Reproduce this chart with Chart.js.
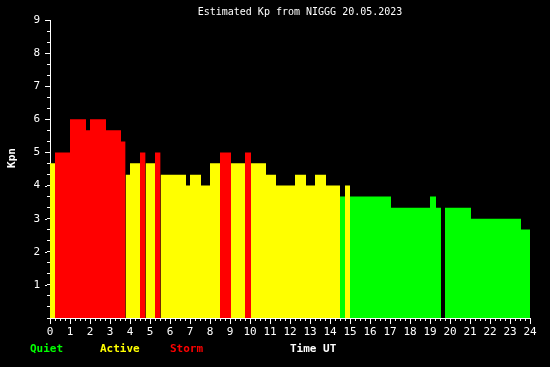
<!DOCTYPE html>
<html lang="en">
<head>
<meta charset="UTF-8">
<title>Estimated Kp from NIGGG 20.05.2023</title>
<script src="https://cdn.jsdelivr.net/npm/chart.js"></script>
<style>
  html, body { margin: 0; padding: 0; background: #000; }
</style>
</head>
<body>
<canvas id="kpChart" width="550" height="367"></canvas>
<script>
// Kp segments: start / end time (hours UT) and the value in between
const segStart = [0, 0.25, 1.0, 1.8, 2.0, 2.8, 3.55, 3.78, 4.0, 4.5, 4.78, 5.25, 5.53, 6.8, 7.0, 7.55, 8.0, 8.5, 9.05, 9.75, 10.05, 10.8, 11.3, 12.25, 12.8, 13.25, 13.8, 14.5, 14.75, 15.0, 17.05, 19.0, 19.3, 19.75, 21.05, 23.55];
const segEnd   = [0.25, 1.0, 1.8, 2.0, 2.8, 3.55, 3.78, 4.0, 4.5, 4.78, 5.25, 5.53, 6.8, 7.0, 7.55, 8.0, 8.5, 9.05, 9.75, 10.05, 10.8, 11.3, 12.25, 12.8, 13.25, 13.8, 14.5, 14.75, 15.0, 17.05, 19.0, 19.3, 19.55, 21.05, 23.55, 24.0];
const kpValues = [4.67, 5, 6, 5.67, 6, 5.67, 5.33, 4.33, 4.67, 5, 4.67, 5, 4.33, 4, 4.33, 4, 4.67, 5, 4.67, 5, 4.67, 4.33, 4, 4.33, 4, 4.33, 4, 3.67, 4, 3.67, 3.33, 3.67, 3.33, 3.33, 3, 2.67];

const kpTickLabels = ['1', '2', '3', '4', '5', '6', '7', '8', '9'];
const hourTickLabels = ['0','1','2','3','4','5','6','7','8','9','10','11','12','13','14','15','16','17','18','19','20','21','22','23','24'];

const bandNames = ['Quiet', 'Active', 'Storm'];
const bandColors = ['#00ff00', '#ffff00', '#ff0000'];

function band(kp) { return kp >= 5 ? 2 : kp >= 4 ? 1 : 0; }

// one filled step area per activity level, broken where the level changes
const bandPoints = [[], [], []];
segStart.forEach((t0, i) => {
  const pts = bandPoints[band(kpValues[i])];
  const last = pts[pts.length - 1];
  if (last && last.x !== t0) pts.push({ x: t0, y: null });
  pts.push({ x: t0, y: kpValues[i] }, { x: segEnd[i], y: kpValues[i] });
});

const datasets = bandNames.map((name, b) => ({
  label: name,
  data: bandPoints[b],
  fill: 'origin',
  backgroundColor: bandColors[b],
  borderColor: 'rgba(0,0,0,0)',
  borderWidth: 0,
  pointRadius: 0,
  tension: 0,
  spanGaps: false
}));

const mono = 'DejaVu Sans Mono';

const decor = {
  id: 'decor',
  beforeDraw(chart) {
    const c = chart.ctx;
    c.save();
    c.fillStyle = '#000';
    c.fillRect(0, 0, chart.width, chart.height);
    c.restore();
  },
  afterDraw(chart) {
    const c = chart.ctx;
    const { x, y } = chart.scales;
    c.save();
    // longer ticks on whole units
    c.strokeStyle = '#fff';
    c.lineWidth = 1;
    c.beginPath();
    hourTickLabels.forEach(h => {
      const px = Math.round(x.getPixelForValue(+h)) + 0.5;
      c.moveTo(px, y.bottom + 3);
      c.lineTo(px, y.bottom + 6);
    });
    kpTickLabels.forEach(k => {
      const py = Math.round(y.getPixelForValue(+k)) + 0.5;
      c.moveTo(x.left - 3, py);
      c.lineTo(x.left - 5, py);
    });
    c.stroke();

    c.textBaseline = 'middle';
    c.fillStyle = '#fff';
    c.textAlign = 'center';
    c.font = '10px "' + mono + '"';
    c.fillText('Estimated Kp from NIGGG 20.05.2023', 300, 12);

    c.font = 'bold 11px "' + mono + '"';
    c.textAlign = 'left';
    const legendX = [30, 100, 170];
    bandNames.forEach((name, b) => {
      c.fillStyle = bandColors[b];
      c.fillText(name, legendX[b], 349);
    });
    c.fillStyle = '#fff';
    c.fillText('Time UT', 290, 349);

    c.translate(12, 158);
    c.rotate(-Math.PI / 2);
    c.textAlign = 'center';
    c.fillText('Kpn', 0, 0);
    c.restore();
  }
};

const isWhole = v => Math.abs(v - Math.round(v)) < 1e-6;

new Chart(document.getElementById('kpChart'), {
  type: 'line',
  data: { datasets },
  options: {
    responsive: false,
    animation: false,
    layout: { padding: { top: 20, right: 20, left: 0, bottom: 0 } },
    plugins: { legend: { display: false }, tooltip: { enabled: false } },
    scales: {
      x: {
        type: 'linear',
        min: 0, max: 24,
        afterFit(s) { s.height = 49; },
        border: { color: '#fff', width: 1 },
        grid: { drawOnChartArea: false, tickLength: 3, color: '#fff' },
        ticks: {
          stepSize: 0.25, autoSkip: false, maxRotation: 0, padding: 5,
          color: '#fff', font: { family: mono, size: 11 },
          callback: v => isWhole(v) && hourTickLabels.includes(String(Math.round(v))) ? String(Math.round(v)) : ''
        }
      },
      y: {
        min: 0, max: 9,
        afterFit(s) { s.width = 50; },
        border: { color: '#fff', width: 1 },
        grid: { drawOnChartArea: false, tickLength: 3, color: '#fff' },
        ticks: {
          stepSize: 1 / 3, autoSkip: false, padding: 7,
          color: '#fff', font: { family: mono, size: 11 },
          callback: v => isWhole(v) && kpTickLabels.includes(String(Math.round(v))) ? String(Math.round(v)) : ''
        }
      }
    }
  },
  plugins: [decor]
});
</script>
</body>
</html>
